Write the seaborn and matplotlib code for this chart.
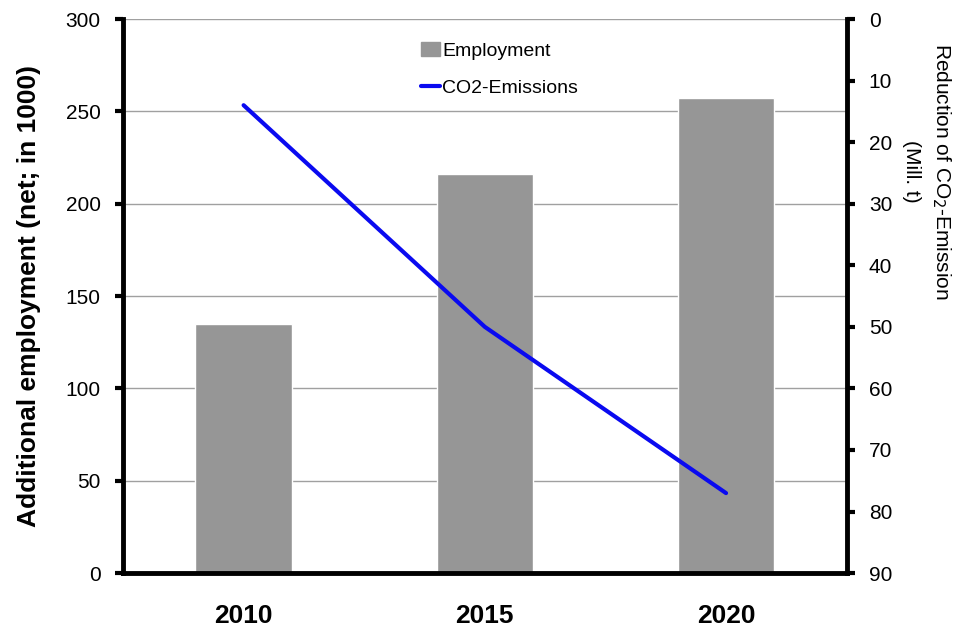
import numpy as np
import pandas as pd
import matplotlib
matplotlib.use("Agg")
import matplotlib.pyplot as plt
from matplotlib.patches import Patch
from matplotlib.lines import Line2D
import seaborn as sns

# ==============================
#            Data
# ==============================
years = ["2010", "2015", "2020"]
employment = [135, 216, 257]      # in 1000, net
co2_reduction = [14, 50, 77]      # Mill. t

sns.set_theme(style="white", rc={"text.color": "black", "axes.labelcolor": "black",
                                 "xtick.color": "black", "ytick.color": "black"})
plt.rcParams["font.family"] = ["Liberation Sans", "DejaVu Sans"]

df = pd.DataFrame({"year": years, "employment": employment})

fig = plt.figure(figsize=(9.61, 6.34), dpi=100)
ax = fig.add_axes([0.128, 0.096, 0.753, 0.874])

sns.barplot(data=df, x="year", y="employment", color="#969696",
            saturation=1, width=0.4, ax=ax, zorder=2)
ax.set_ylim(0, 300)
ax.set_xlim(-0.5, 2.5)
ax.set_yticks(range(0, 301, 50))
ax.yaxis.grid(True, color="#a0a0a0", lw=1)
ax.set_axisbelow(True)
ax.set_xlabel("")
ax.set_ylabel("Additional employment (net; in 1000)", fontsize=19,
              fontweight="bold", labelpad=18)
ax.tick_params(axis="y", labelsize=15, length=6, width=3, direction="out",
               left=True, pad=10)
ax.tick_params(axis="x", labelsize=19, length=0, pad=22)
for lab in ax.get_xticklabels():
    lab.set_fontweight("bold")
for s in ["left", "bottom"]:
    ax.spines[s].set_linewidth(3.5)
    ax.spines[s].set_color("black")
ax.spines["top"].set_visible(False)
ax.spines["right"].set_visible(False)

# CO2 line on the right axis (inverted)
ax2 = ax.twinx()
sns.lineplot(x=np.arange(len(years)), y=co2_reduction, color="#0a0af0",
             lw=3, ax=ax2, zorder=3)
ax2.set_ylim(90, 0)
ax2.set_yticks(range(0, 91, 10))
ax2.tick_params(axis="y", labelsize=15, length=6, width=3, direction="out",
                right=True, pad=10)
ax2.set_ylabel("Reduction of CO$_2$-Emission\n(Mill. t)", fontsize=15,
               rotation=270, linespacing=1.6, va="center", ha="center")
ax2.yaxis.set_label_coords(1.112, 0.725)
for s in ["left", "top", "bottom"]:
    ax2.spines[s].set_visible(False)
ax2.spines["right"].set_linewidth(3.5)
ax2.spines["right"].set_color("black")
ax2.grid(False)

handles = [Patch(color="#969696"),
           Line2D([0], [0], color="#0a0af0", lw=3)]
ax2.legend(handles, ["Employment", "CO2-Emissions"], loc="upper center",
           bbox_to_anchor=(0.52, 0.99), frameon=False, fontsize=14,
           handlelength=1.0, handletextpad=0.1, labelspacing=1.0)

fig.savefig("out.png", dpi=100)
